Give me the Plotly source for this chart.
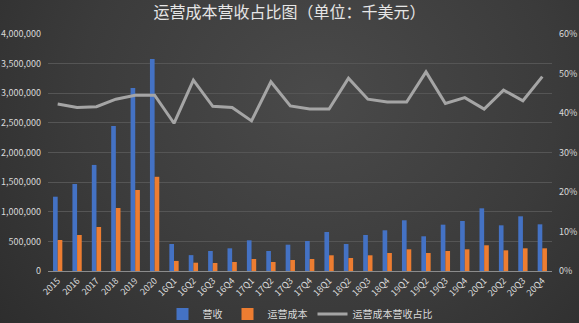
import base64
import plotly.graph_objects as go

categories = ["2015", "2016", "2017", "2018", "2019", "2020",
              "16Q1", "16Q2", "16Q3", "16Q4", "17Q1", "17Q2", "17Q3", "17Q4",
              "18Q1", "18Q2", "18Q3", "18Q4", "19Q1", "19Q2", "19Q3", "19Q4",
              "20Q1", "20Q2", "20Q3", "20Q4"]
revenue = [1254000, 1468000, 1790000, 2447000, 3090000, 3578000,
           456000, 268000, 338000, 383000, 518000, 338000, 444000, 506000,
           658000, 456000, 608000, 687000, 856000, 586000, 782000, 844000,
           1058000, 771000, 923000, 788000]
op_cost = [523000, 608000, 743000, 1063000, 1367000, 1590000,
           170000, 140000, 135000, 152000, 203000, 152000, 186000, 203000,
           265000, 219000, 265000, 304000, 366000, 304000, 338000, 366000,
           434000, 349000, 383000, 383000]
ratio = [0.423, 0.414, 0.416, 0.435, 0.445, 0.445,
         0.374, 0.483, 0.417, 0.414, 0.380, 0.479, 0.418, 0.410,
         0.410, 0.488, 0.435, 0.428, 0.428, 0.504, 0.424, 0.439,
         0.410, 0.458, 0.431, 0.492]

font_family = "Noto Sans CJK SC, Noto Sans, sans-serif"
text_color = "#d9d9d9"

W, H = 579, 323
L, R, T, B = 48, 27, 34, 52
pw, ph = W - L - R, H - T - B

svg = (
    f'<svg xmlns="http://www.w3.org/2000/svg" width="{W}" height="{H}" viewBox="0 0 {W} {H}" preserveAspectRatio="none">'
    '<defs><radialGradient id="g" cx="0.55" cy="0.3" r="0.75" gradientTransform="translate(0.55 0.3) scale(1 1.6) translate(-0.55 -0.3)">'
    '<stop offset="0" stop-color="#4a4a4a"/><stop offset="0.55" stop-color="#3b3b3b"/>'
    '<stop offset="1" stop-color="#2b2b2b"/></radialGradient></defs>'
    f'<rect x="0" y="0" width="{W}" height="{H}" fill="url(#g)"/></svg>'
)
bg_src = "data:image/svg+xml;base64," + base64.b64encode(svg.encode()).decode()

fig = go.Figure()
fig.add_trace(go.Bar(x=categories, y=revenue, name="营收",
                     marker=dict(color="#4472c4", line=dict(width=0))))
fig.add_trace(go.Bar(x=categories, y=op_cost, name="运营成本",
                     marker=dict(color="#ed7d31", line=dict(width=0))))
fig.add_trace(go.Scatter(x=categories, y=ratio, name="运营成本营收占比",
                         mode="lines", yaxis="y2",
                         line=dict(color="#a5a5a5", width=3)))

fig.update_layout(
    width=W, height=H,
    margin=dict(l=L, r=R, t=T, b=B, autoexpand=False),
    paper_bgcolor="#353535",
    plot_bgcolor="rgba(0,0,0,0)",
    images=[dict(source=bg_src, xref="paper", yref="paper",
                 x=-L / pw, y=1 + T / ph, sizex=W / pw, sizey=H / ph,
                 xanchor="left", yanchor="top", sizing="stretch", layer="below")],
    font=dict(family=font_family, color=text_color, size=9),
    title=dict(text="运营成本营收占比图（单位：千美元）", x=0.5, xanchor="center",
               y=0.962, yanchor="middle",
               font=dict(size=16, color="#e6e6e6", family=font_family)),
    barmode="group",
    bargap=0.52,
    bargroupgap=0.0,
    showlegend=True,
    legend=dict(orientation="h", x=0.5, xanchor="center", y=-0.12, yanchor="top",
                font=dict(size=10, color=text_color), bgcolor="rgba(0,0,0,0)",
                itemwidth=30),
    xaxis=dict(type="category", tickangle=-45, showgrid=False, automargin=False,
               showline=True, linecolor="#8c8c8c", linewidth=1,
               ticks="", tickfont=dict(size=9, color=text_color)),
    yaxis=dict(range=[0, 4000000], dtick=500000, tickformat=",", automargin=False,
               showgrid=True, gridcolor="#555555", gridwidth=1, ticklabelstandoff=6,
               zeroline=False, ticks="", tickfont=dict(size=9, color=text_color)),
    yaxis2=dict(range=[0, 0.6], dtick=0.1, tickformat=".0%", overlaying="y",
                side="right", showgrid=False, zeroline=False, ticks="", automargin=False,
                ticklabelstandoff=6,
                tickfont=dict(size=9, color=text_color)),
)

fig.write_html("out.html")
